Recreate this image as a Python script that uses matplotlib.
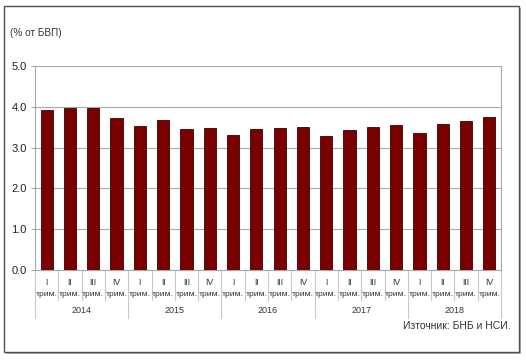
import matplotlib.pyplot as plt
import matplotlib.transforms as mtransforms
from matplotlib.patches import Rectangle

plt.rcParams['font.family'] = ['Liberation Sans', 'DejaVu Sans']

# данни: дял от БВП по тримесечия
years = ['2014', '2015', '2016', '2017', '2018']
quarters = ['I', 'II', 'III', 'IV']
values = [3.93, 3.98, 3.96, 3.73,
          3.54, 3.67, 3.45, 3.49,
          3.32, 3.45, 3.48, 3.51,
          3.29, 3.43, 3.50, 3.56,
          3.37, 3.59, 3.64, 3.74]
yticks = [0.0, 1.0, 2.0, 3.0, 4.0, 5.0]

W, H = 526, 363
fig = plt.figure(figsize=(W / 100, H / 100), dpi=100)

# рамка на диаграмата + сянка
fig.patches.append(Rectangle((6 / W, 1 - 354 / H), 515 / W, 346 / H, transform=fig.transFigure,
                             facecolor='#b0b0b0', edgecolor='none', zorder=0))
fig.patches.append(Rectangle((4 / W, 1 - 352 / H), 515 / W, 346 / H, transform=fig.transFigure,
                             facecolor='white', edgecolor='#505050', linewidth=1.0, zorder=1))

ax = fig.add_axes([35 / W, 1 - 270 / H, 466 / W, 204 / H])
ax.set_zorder(2)
ax.patch.set_alpha(0)

x = list(range(len(values)))
ax.bar(x, values, width=0.52, color='#7a0000', edgecolor='#3a0000', linewidth=0.6, zorder=3)

ax.set_xlim(-0.5, len(values) - 0.5)
ax.set_ylim(0, 5)
ax.set_yticks(yticks)
ax.set_yticklabels([f'{v:.1f}' for v in yticks], fontsize=8)
ax.set_xticks([])
ax.yaxis.grid(True, color='#a8a8a8', linewidth=0.8)
ax.set_axisbelow(True)
ax.tick_params(axis='y', length=3, color='#a8a8a8', pad=3, labelcolor='#222222')
for side in ['left', 'bottom', 'right']:
    ax.spines[side].set_color('#a8a8a8')
    ax.spines[side].set_linewidth(0.8)
ax.spines['top'].set_visible(False)

# категории по оста X
trans = mtransforms.blended_transform_factory(ax.transData, ax.transAxes)
for i in x:
    ax.text(i, -0.062, quarters[i % 4], transform=trans, ha='center', va='center',
            fontsize=6.3, color='#333333')
    ax.text(i, -0.122, 'трим.', transform=trans, ha='center', va='center',
            fontsize=6.1, color='#333333')
for i in range(len(values) + 1):
    bottom = -0.235 if i % 4 == 0 else -0.145
    ax.plot([i - 0.5, i - 0.5], [0, bottom], transform=trans, color='#c8c8c8',
            linewidth=0.8, clip_on=False)
for j, yr in enumerate(years):
    ax.text(j * 4 + 1.5, -0.2, yr, transform=trans, ha='center', va='center',
            fontsize=6.5, color='#333333')

fig.text(10 / W, 1 - 33 / H, '(% от БВП)', fontsize=7.2, va='center', ha='left', color='#333333')
fig.text(511 / W, 1 - 326 / H, 'Източник: БНБ и НСИ.', fontsize=7.5, va='center', ha='right',
         color='#333333')

fig.savefig('out.png', dpi=100)
